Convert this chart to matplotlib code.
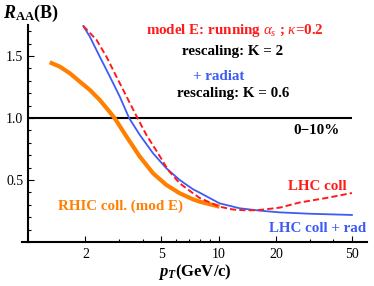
import matplotlib
matplotlib.use("Agg")
import matplotlib.pyplot as plt
from matplotlib.ticker import FixedLocator, FixedFormatter, FormatStrFormatter, MultipleLocator

plt.rcParams['font.family'] = ['Liberation Serif', 'DejaVu Serif']
plt.rcParams['mathtext.fontset'] = 'custom'
plt.rcParams['mathtext.rm'] = 'Liberation Serif'
plt.rcParams['mathtext.it'] = 'Liberation Serif:italic'
plt.rcParams['mathtext.bf'] = 'Liberation Serif:bold'
plt.rcParams['mathtext.bfit'] = 'Liberation Serif:bold:italic'

# LHC coll + rad (blue)
pt_blue = [1.95, 2.11, 2.38, 2.69, 3.03, 3.39, 3.86, 4.53, 5.32, 6.25, 7.34, 7.95,
           10.1, 12.9, 16.4, 20.9, 30.0, 50.0]
r_blue = [1.742, 1.656, 1.494, 1.333, 1.172, 1.0, 0.863, 0.715, 0.594, 0.50, 0.425, 0.398,
          0.312, 0.272, 0.253, 0.239, 0.228, 0.218]

# LHC coll (red dashed)
pt_red = [1.95, 2.29, 2.58, 2.91, 3.29, 3.75, 4.18, 4.81, 5.43, 6.25, 7.34, 7.95,
          10.1, 11.9, 14.0, 16.4, 20.9, 26.5, 36.7, 50.0]
r_red = [1.742, 1.629, 1.494, 1.333, 1.172, 1.0, 0.863, 0.715, 0.581, 0.473, 0.393, 0.355,
         0.285, 0.262, 0.255, 0.258, 0.277, 0.318, 0.355, 0.395]

# RHIC coll (mod E) (orange)
pt_orange = [1.30, 1.47, 1.66, 1.87, 2.11, 2.38, 2.63, 2.85, 3.29, 3.86, 4.53, 5.32,
             6.25, 7.34, 7.95, 10.1]
r_orange = [1.449, 1.414, 1.360, 1.293, 1.226, 1.145, 1.065, 0.998, 0.849, 0.688, 0.554, 0.460,
            0.393, 0.344, 0.325, 0.285]

ref_level = 1.0
ref_range = [1.0, 50.0]

xticks = [2, 5, 10, 20, 50]
xticklabels = ['2', '5', '10', '20', '50']
yticks = [0.5, 1.0, 1.5]

W, H = 374, 286
fig = plt.figure(figsize=(W/100, H/100), dpi=100)
ax = fig.add_axes([22/W, 1-242/H, (367-22)/W, (242-25)/H])

ax.set_xscale('log')
ax.set_xlim(0.93, 60)
ax.set_ylim(0, 1.75)

ax.hlines(ref_level, ref_range[0], ref_range[1], color='black', lw=1.5, zorder=1)
ax.plot(pt_orange, r_orange, color='#FF7F00', lw=3.0, solid_capstyle='butt',
        solid_joinstyle='round', zorder=2)
ax.plot(pt_blue, r_blue, color='#3D5BF5', lw=1.3, solid_joinstyle='round', zorder=3)
ax.plot(pt_red, r_red, color='#FF1A1A', lw=1.4, ls=(0, (3.2, 1.6)), zorder=4)

for s in ['top', 'right']:
    ax.spines[s].set_visible(False)
ax.spines['left'].set_position(('data', 1.0))
ax.spines['left'].set_linewidth(1.5)
ax.spines['bottom'].set_linewidth(1.5)

ax.xaxis.set_major_locator(FixedLocator(xticks))
ax.xaxis.set_major_formatter(FixedFormatter(xticklabels))
minors = [m * d for d in (1, 10) for m in range(2, 10) if m * d not in xticks and m * d < 60]
ax.xaxis.set_minor_locator(FixedLocator(minors))
ax.yaxis.set_major_locator(FixedLocator(yticks))
ax.yaxis.set_major_formatter(FormatStrFormatter('%.1f'))
ax.yaxis.set_minor_locator(MultipleLocator(0.1))
ax.tick_params(which='both', direction='in', labelsize=10, width=0.8)
ax.tick_params(which='major', length=4)
ax.tick_params(which='minor', length=2)
ax.tick_params(axis='x', pad=4)

def ftext(x, y, s, **kw):
    fig.text(x/W, 1-y/H, s, ha='center', va='center', **kw)

fs = 10.8
ftext(31, 13, r'$\boldsymbol{R}_{\mathbf{AA}}$(B)', fontsize=13, fontweight='bold')
ftext(235, 31, r'model E: running $\alpha_s$ ; $\kappa$=0.2', fontsize=fs, fontweight='bold', color='#FF1A1A')
ftext(233, 51, 'rescaling: K = 2', fontsize=fs, fontweight='bold', color='black')
ftext(219, 77, '+ radiat', fontsize=fs, fontweight='bold', color='#3D5BF5')
ftext(233, 93, 'rescaling: K = 0.6', fontsize=fs, fontweight='bold', color='black')
ftext(317, 131, '0\u221210%', fontsize=fs, fontweight='bold', color='black')
ftext(317, 187, 'LHC coll', fontsize=fs, fontweight='bold', color='#FF1A1A')
ftext(318, 228, 'LHC coll + rad', fontsize=fs, fontweight='bold', color='#3D5BF5')
ftext(120, 206, 'RHIC coll. (mod E)', fontsize=fs, fontweight='bold', color='#FF7F00')
ftext(195, 272, r'$\boldsymbol{p}_{\boldsymbol{T}}$(GeV/c)', fontsize=12, fontweight='bold')

fig.savefig('out.png', dpi=100)
